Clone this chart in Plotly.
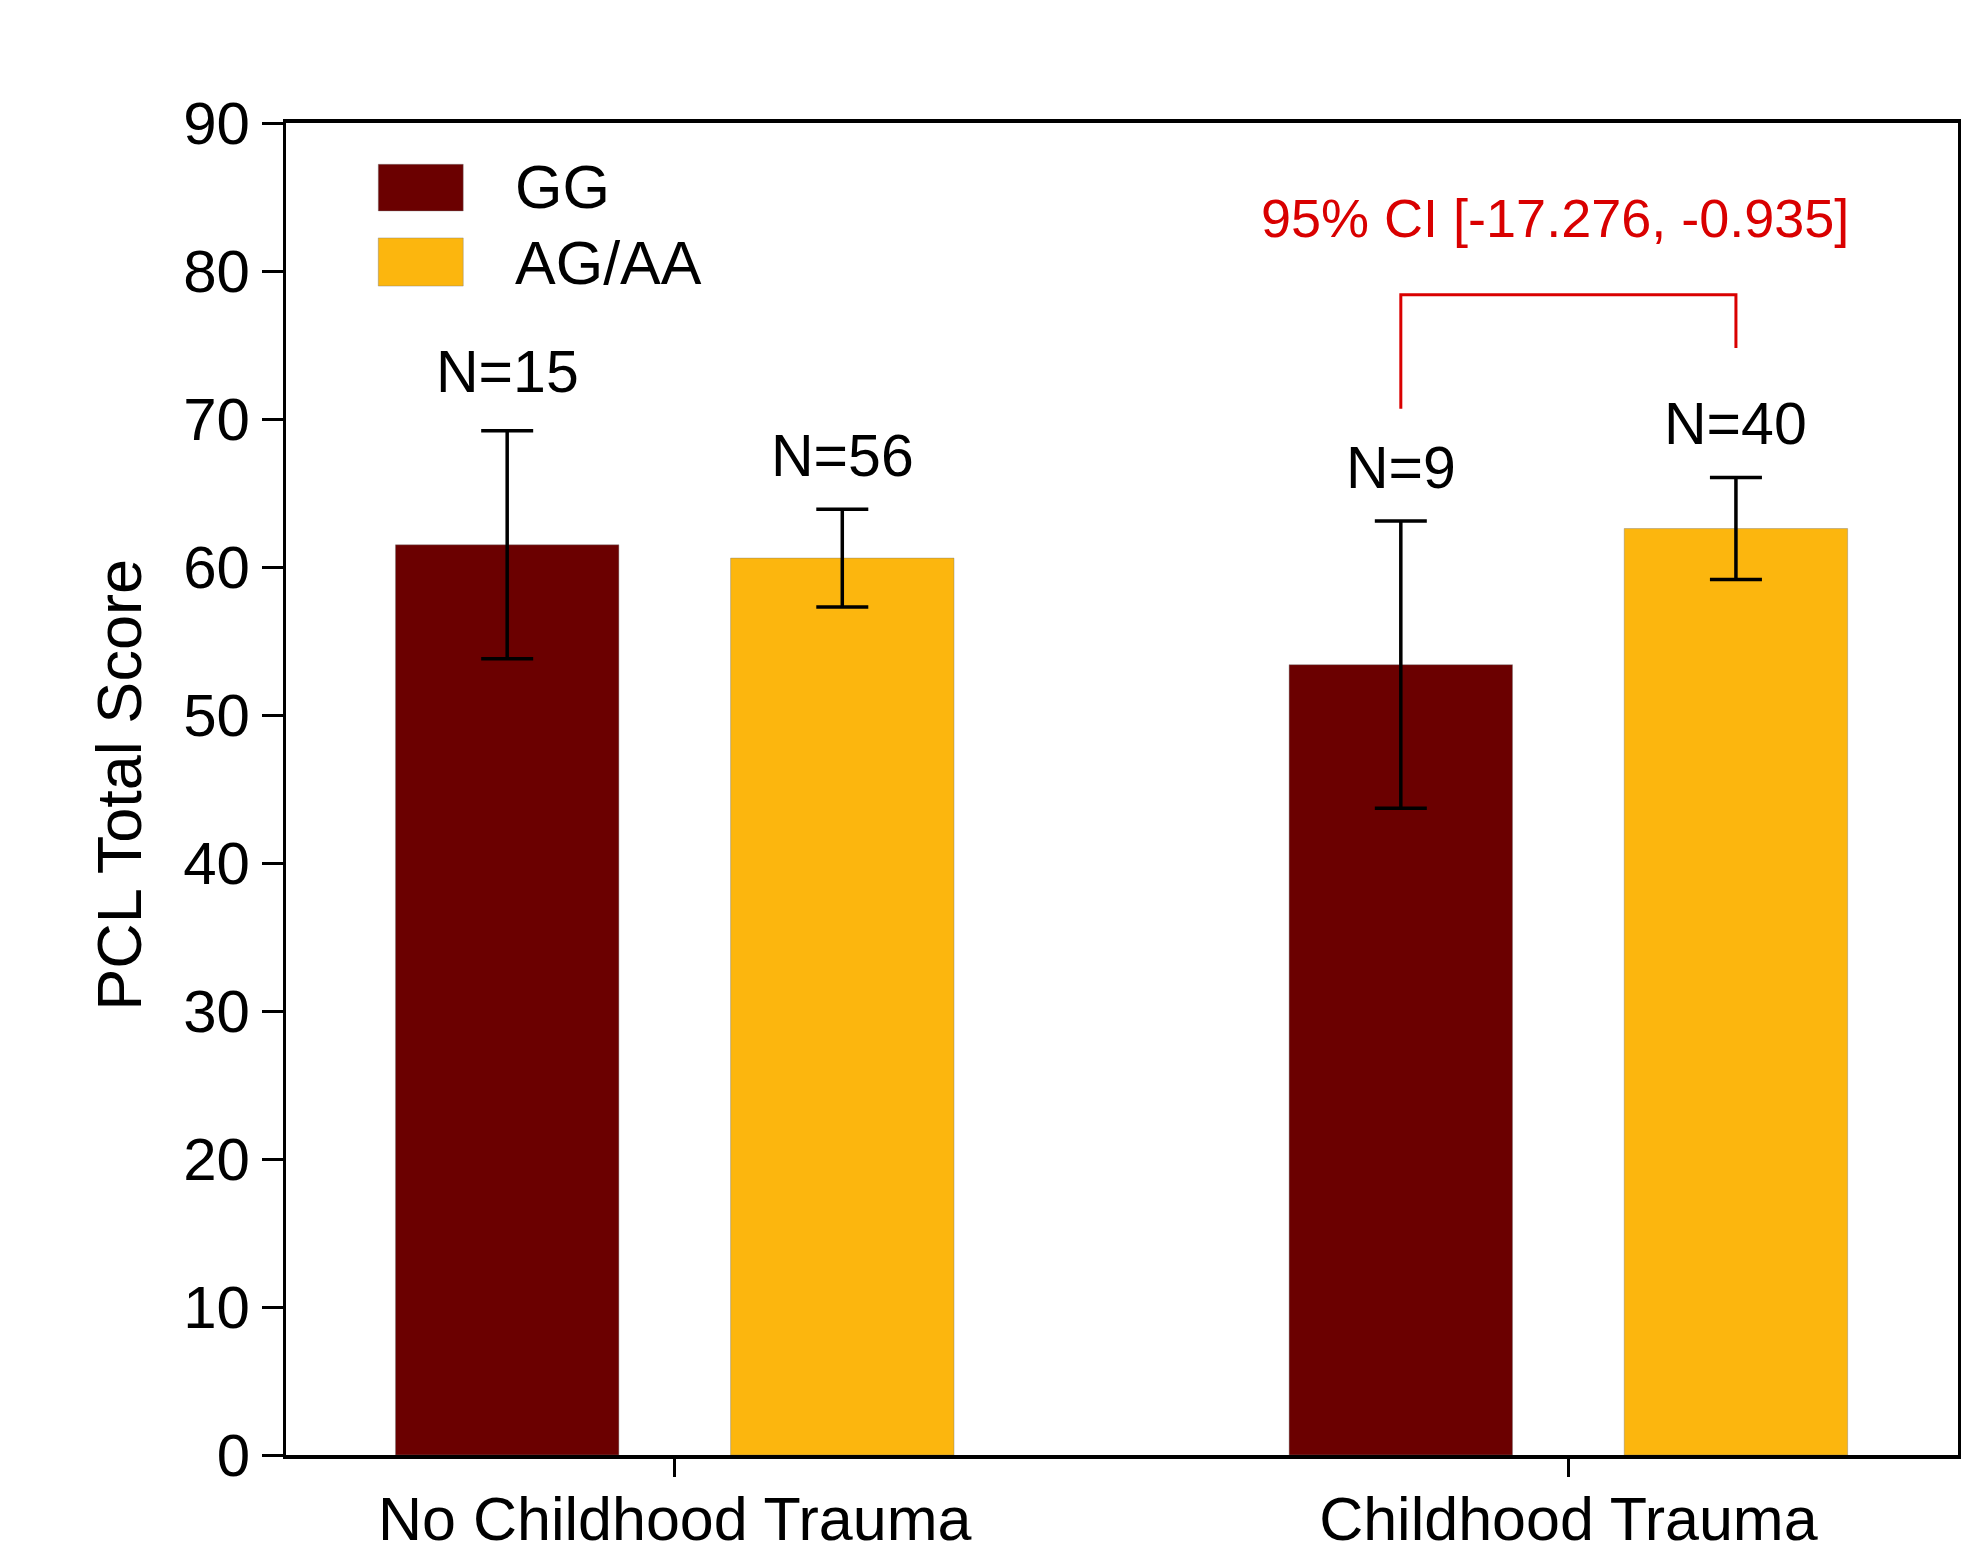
import plotly.graph_objects as go

categories = ["No Childhood Trauma", "Childhood Trauma"]
series_names = ["GG", "AG/AA"]
gg_means = [61.5, 53.4]
gg_errors = [7.7, 9.7]
ag_means = [60.6, 62.6]
ag_errors = [3.3, 3.45]
gg_n = ["N=15", "N=9"]
ag_n = ["N=56", "N=40"]
y_ticks = [0, 10, 20, 30, 40, 50, 60, 70, 80, 90]
ci_label = "95% CI [-17.276, -0.935]"
bracket_y = [70.7, 78.4, 74.8]  # left foot, top, right foot

GG_COLOR = "#6B0000"
AG_COLOR = "#FCB60E"
RED = "#D90000"
FONT = "Liberation Sans, Arial, sans-serif"

BARGAP = 0.25
OFF = (1 - BARGAP) / 4
gg_shift = [24, 18]
ag_shift = [18, 18]

fig = go.Figure()
fig.add_trace(go.Bar(
    x=categories, y=gg_means, name=series_names[0],
    marker=dict(color=GG_COLOR, line=dict(color="rgba(120,120,120,0.4)", width=1)),
    error_y=dict(type="data", array=gg_errors, color="black", thickness=3.5, width=26),
    showlegend=False,
))
fig.add_trace(go.Bar(
    x=categories, y=ag_means, name=series_names[1],
    marker=dict(color=AG_COLOR, line=dict(color="rgba(120,120,120,0.4)", width=1)),
    error_y=dict(type="data", array=ag_errors, color="black", thickness=3.5, width=26),
    showlegend=False,
))

annotations = []
for i in range(len(categories)):
    annotations.append(dict(x=i - OFF, y=gg_means[i] + gg_errors[i], xref="x", yref="y",
                            text=gg_n[i], showarrow=False, yanchor="bottom", yshift=gg_shift[i],
                            font=dict(family=FONT, size=59, color="black")))
    annotations.append(dict(x=i + OFF, y=ag_means[i] + ag_errors[i], xref="x", yref="y",
                            text=ag_n[i], showarrow=False, yanchor="bottom", yshift=ag_shift[i],
                            font=dict(family=FONT, size=59, color="black")))

annotations.append(dict(x=1 - 0.015, y=83.6, xref="x", yref="y", text=ci_label, showarrow=False,
                        xanchor="center", yanchor="middle",
                        font=dict(family=FONT, size=54, color=RED)))

# y-axis title
annotations.append(dict(x=-0.1, y=0.503, xref="paper", yref="paper", text="PCL Total Score",
                        textangle=-90, showarrow=False, xanchor="center", yanchor="middle",
                        font=dict(family=FONT, size=63, color="black")))

# legend
legend_items = [(series_names[0], GG_COLOR, 0.934, 0.969, 0.952),
                (series_names[1], AG_COLOR, 0.8776, 0.9137, 0.895)]
shapes = []
for name, col, y0, y1, yt in legend_items:
    shapes.append(dict(type="rect", xref="paper", yref="paper", x0=0.0552, x1=0.106, y0=y0, y1=y1,
                       fillcolor=col, line=dict(color="rgba(120,120,120,0.4)", width=1)))
    annotations.append(dict(x=0.1359, y=yt, xref="paper", yref="paper", text=name, showarrow=False,
                            xanchor="left", yanchor="middle",
                            font=dict(family=FONT, size=61, color="black")))

# significance bracket
bx0, bx1 = 1 - OFF, 1 + OFF
shapes.append(dict(type="path", xref="x", yref="y",
                   path=f"M {bx0} {bracket_y[0]} L {bx0} {bracket_y[1]} L {bx1} {bracket_y[1]} L {bx1} {bracket_y[2]}",
                   line=dict(color=RED, width=3)))

fig.update_layout(
    width=1976, height=1562,
    margin=dict(l=278, r=26, t=115, b=115),
    paper_bgcolor="white", plot_bgcolor="white",
    barmode="group", bargap=BARGAP, bargroupgap=1/3,
    annotations=annotations, shapes=shapes,
    font=dict(family=FONT, color="black"),
    showlegend=False,
)
fig.update_xaxes(
    range=[-0.435, 1.436], showline=True, linecolor="black", linewidth=4, mirror=True,
    ticks="outside", ticklen=18, tickwidth=2.5, tickcolor="black",
    tickfont=dict(family=FONT, size=61, color="black"), showgrid=False, zeroline=False,
    ticklabelstandoff=-10,
)
fig.update_yaxes(
    range=[0, 90], tickvals=y_ticks, showline=True, linecolor="black", linewidth=3, mirror=True,
    ticks="outside", ticklen=21, tickwidth=3, tickcolor="black",
    tickfont=dict(family=FONT, size=60, color="black"), showgrid=False, zeroline=False,
)

fig.write_html("out.html")
